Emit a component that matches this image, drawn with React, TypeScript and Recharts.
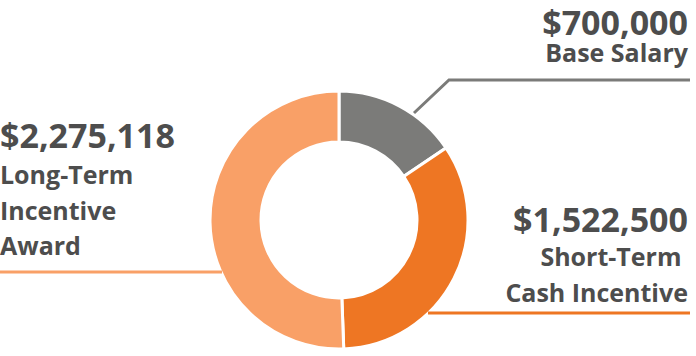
import React from 'react'
import { PieChart, Pie, Cell } from 'recharts'

const categories = ['Base Salary', 'Short-Term Cash Incentive', 'Long-Term Incentive Award']
const values = [700000, 1522500, 2275118]
const amountLabels = ['$700,000', '$1,522,500', '$2,275,118']
const nameLines = [['Base Salary'], ['Short-Term ', 'Cash Incentive'], ['Long-Term', 'Incentive', 'Award']]

const colors = ['#7b7b79', '#ee7623', '#f9a067']
const textColor = '#4d4d4d'
const font = '"Open Sans", "Noto Sans", sans-serif'

const data = categories.map((name, i) => ({ name, value: values[i] }))

// where each annotation sits (x, anchor, amount baseline, name baselines, leader line)
const layout = [
  { x: 688, anchor: 'end', amountY: 35, nameY: 62, step: 36, line: '414,113 449,80 690,80' },
  { x: 688, anchor: 'end', amountY: 232, nameY: 266, step: 36, line: '428,313 690,313' },
  { x: 0, anchor: 'start', amountY: 148, nameY: 184, step: 35.5, line: '0,272 222,272' },
]

const renderLabel = (props: any) => {
  const i = props.index
  const l = layout[i]
  return (
    <g key={'lbl' + i}>
      <polyline points={l.line} fill="none" stroke={colors[i]} strokeWidth={3} />
      <text x={l.x} y={l.amountY} textAnchor={l.anchor} fill={textColor}
        style={{ fontFamily: font, fontWeight: 700, fontSize: 34 }}>
        {amountLabels[i]}
      </text>
      {nameLines[i].map((t, k) => (
        <text key={k} x={l.x} y={l.nameY + k * l.step} textAnchor={l.anchor} fill={textColor}
          style={{ fontFamily: font, fontWeight: 700, fontSize: 25, whiteSpace: 'pre' }}>
          {t}
        </text>
      ))}
    </g>
  )
}

export default function App() {
  return (
    <div style={{ position: 'absolute', left: 0, top: 0, width: 696, height: 356, background: '#fff' }}>
      <PieChart width={696} height={356} margin={{ top: 0, right: 0, bottom: 0, left: 0 }}>
        <Pie
          data={data}
          dataKey="value"
          cx={339}
          cy={220}
          innerRadius={78}
          outerRadius={129}
          startAngle={90}
          endAngle={-270}
          stroke="#fff"
          strokeWidth={3}
          label={renderLabel}
          labelLine={false}
          isAnimationActive={false}
        >
          {data.map((d, i) => (
            <Cell key={d.name} fill={colors[i]} />
          ))}
        </Pie>
      </PieChart>
    </div>
  )
}
